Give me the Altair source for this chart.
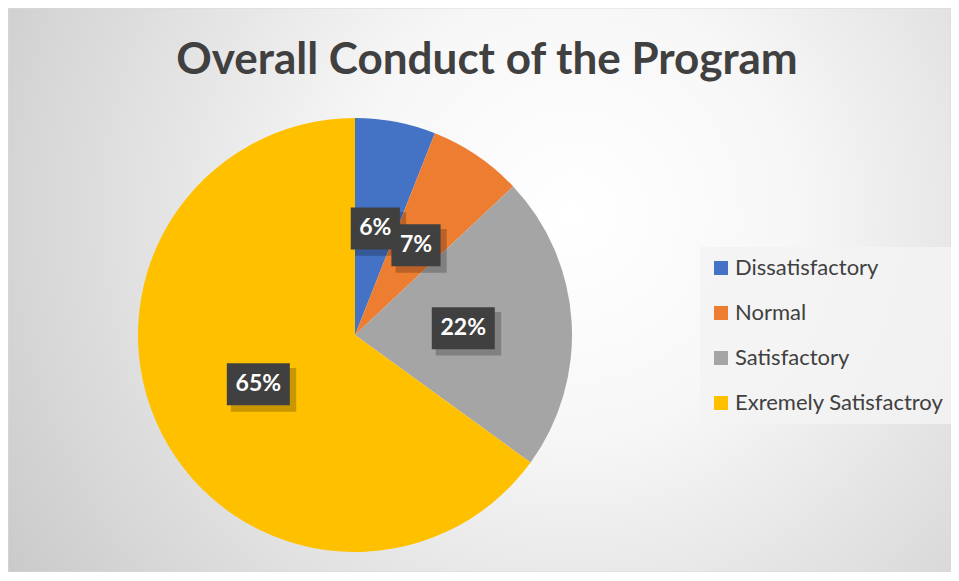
import altair as alt
import pandas as pd

title_text = "Overall Conduct of the Program"
categories = ["Dissatisfactory", "Normal", "Satisfactory", "Exremely Satisfactroy"]
values = [6, 7, 22, 65]
colors = ["#4472C4", "#ED7D31", "#A5A5A5", "#FFC000"]

W, H = 943, 564
CX, CY, R = 347, 327, 217

df = pd.DataFrame({"category": categories, "value": values, "idx": list(range(len(categories)))})

xscale = alt.Scale(domain=[-CX / R, (W - CX) / R], nice=False, zero=False)
yscale = alt.Scale(domain=[-(H - CY) / R, CY / R], nice=False, zero=False)

bg_grad = alt.RadialGradient(
    gradient="radial",
    stops=[
        alt.GradientStop(offset=0, color="#ffffff"),
        alt.GradientStop(offset=0.3, color="#f7f7f7"),
        alt.GradientStop(offset=0.75, color="#d6d6d6"),
        alt.GradientStop(offset=1, color="#c3c3c3"),
    ],
    x1=0.6, y1=0.42, r1=0, x2=0.6, y2=0.42, r2=0.78,
)

background = alt.Chart(pd.DataFrame({"a": [0]})).mark_rect(
    fill=bg_grad, stroke="#d9d9d9", strokeWidth=1
).encode(x=alt.value(0), x2=alt.value(W), y=alt.value(0), y2=alt.value(H))

title = alt.Chart(pd.DataFrame({"t": [title_text]})).mark_text(
    font="Lato", fontWeight="bold", fontSize=44, color="#404040", align="center", baseline="alphabetic"
).encode(x=alt.value(479), y=alt.value(66), text="t:N")

base = alt.Chart(df)

pie = base.mark_arc(radius=R).encode(
    theta=alt.Theta("value:Q", stack=True),
    color=alt.Color(
        "category:N",
        scale=alt.Scale(domain=categories, range=colors),
        sort=categories,
        legend=alt.Legend(
            orient="none", legendX=692, legendY=239, title=None,
            symbolType="square", symbolSize=196, symbolStrokeWidth=0,
            labelFont="Lato", labelFontSize=22, labelColor="#404040", labelOffset=3,
            rowPadding=23, padding=10, fillColor="rgba(243,243,243,0.85)", labelLimit=400,
        ),
    ),
    order=alt.Order("idx:Q"),
    x=alt.value(CX),
    y=alt.value(CY),
)

labels = base.transform_joinaggregate(total="sum(value)").transform_window(
    cum="sum(value)", sort=[alt.SortField("idx")]
).transform_calculate(
    mid="(datum.cum - datum.value / 2) / datum.total * 2 * PI",
    lx="0.5 * sin(datum.mid)",
    ly="0.5 * cos(datum.mid)",
    sx="datum.lx + 0.024",
    sy="datum.ly - 0.026",
    label="format(datum.value / datum.total, '.0%')",
    boxw="length(datum.label) > 2 ? 'w' : 'n'",
)

shape_scale = alt.Scale(
    domain=["n", "w"],
    range=["M-1.17,-1H1.17V1H-1.17Z", "M-1.5,-1H1.5V1H-1.5Z"],
)

shadow = labels.mark_point(filled=True, color="#000000", opacity=0.22, strokeWidth=0).encode(
    x=alt.X("sx:Q", scale=xscale, axis=None),
    y=alt.Y("sy:Q", scale=yscale, axis=None),
    shape=alt.Shape("boxw:N", scale=shape_scale, legend=None),
    size=alt.value(1900),
)

boxes = labels.mark_point(filled=True, color="#404040", opacity=1, strokeWidth=0).encode(
    x=alt.X("lx:Q", scale=xscale, axis=None),
    y=alt.Y("ly:Q", scale=yscale, axis=None),
    shape=alt.Shape("boxw:N", scale=shape_scale, legend=None),
    size=alt.value(1764),
)

texts = labels.mark_text(
    font="Lato", fontWeight="bold", fontSize=23, color="white", align="center", baseline="middle"
).encode(
    x=alt.X("lx:Q", scale=xscale, axis=None),
    y=alt.Y("ly:Q", scale=yscale, axis=None),
    text="label:N",
)

chart = alt.layer(background, title, pie, shadow, boxes, texts).properties(
    width=W, height=H, autosize=alt.AutoSizeParams(type="none"), padding=0
).configure_view(stroke=None)

chart.save("out.html", embed_options={"renderer": "svg", "actions": False})
